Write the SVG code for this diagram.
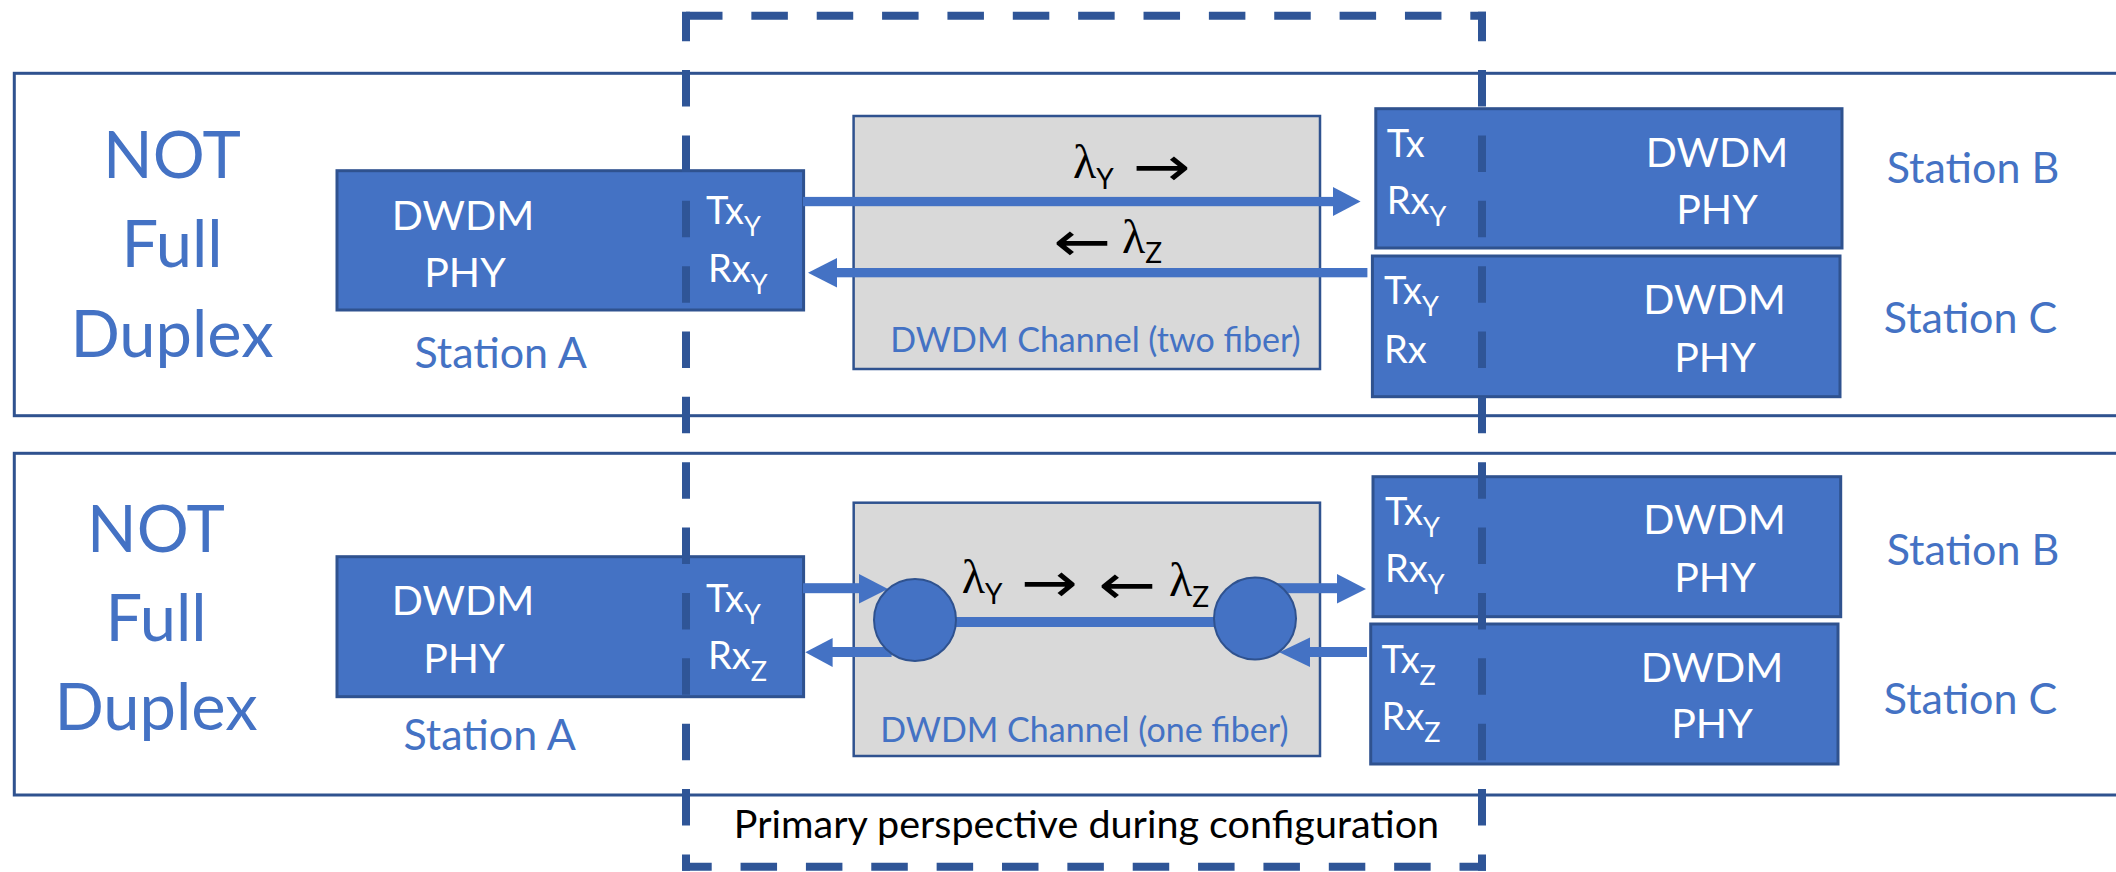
<svg xmlns="http://www.w3.org/2000/svg" width="2116" height="872" viewBox="0 0 2116 872">
  <style>
    text { font-family: Lato, "Liberation Sans", sans-serif; }
    .panel { fill: #FFFFFF; stroke: #2F528F; stroke-width: 3; }
    .chanbox { fill: #D9D9D9; stroke: #2F528F; stroke-width: 2.5; }
    .phy { fill: #4472C4; stroke: #2F528F; stroke-width: 3; }
    .big { fill: #4472C4; font-size: 65px; text-anchor: middle; }
    .lbl { fill: #4472C4; font-size: 43px; text-anchor: middle; }
    .inner { fill: #FFFFFF; font-size: 41px; text-anchor: middle; }
    .port { fill: #FFFFFF; font-size: 38px; }
    .sub { font-size: 27px; }
    .chan { fill: #4472C4; font-size: 34px; text-anchor: middle; }
    .lam { fill: #000000; font-family: "Liberation Serif", serif; font-size: 48px; }
    .lsub { font-family: Lato, "Liberation Sans", sans-serif; font-size: 28px; }
    .arr { fill: #000000; font-family: "DejaVu Sans", sans-serif; font-size: 56px; }
    .note { fill: #000000; font-size: 39.5px; text-anchor: middle; }
    .fiber { fill: #4472C4; }
    .node { fill: #4472C4; stroke: #2F528F; stroke-width: 2; }
    .perim { stroke: #2F5597; stroke-width: 8; fill: none; stroke-dasharray: 36.5 28.86; }
  </style>

  <!-- row frames -->
  <g id="row-two-fiber">
    <rect class="panel" x="14.3" y="73.3" width="2120" height="342.4"/>
    <text class="big" x="172" y="178.3">NOT</text>
    <text class="big" x="172" y="266.7">Full</text>
    <text class="big" x="172" y="357.3">Duplex</text>
  </g>
  <g id="row-one-fiber">
    <rect class="panel" x="14.3" y="453.3" width="2120" height="341.7"/>
    <text class="big" x="156" y="551.7">NOT</text>
    <text class="big" x="156" y="640.7">Full</text>
    <text class="big" x="156" y="730">Duplex</text>
  </g>

  <!-- channel boxes -->
  <g id="channel-two-fiber">
    <rect class="chanbox" x="853.6" y="116" width="466.4" height="253"/>
    <text class="chan" x="1095.5" y="352">DWDM Channel (two fiber)</text>
  </g>
  <g id="channel-one-fiber">
    <rect class="chanbox" x="853.7" y="502.7" width="466.3" height="253.3"/>
    <text class="chan" x="1084.4" y="741.7">DWDM Channel (one fiber)</text>
  </g>

  <!-- stations, two-fiber row -->
  <g id="station-a-top">
    <rect class="phy" x="337" y="170.7" width="466.6" height="139.3"/>
    <text class="inner" x="463" y="230">DWDM</text>
    <text class="inner" x="465" y="287">PHY</text>
    <text class="port" x="706" y="224">Tx<tspan class="sub" dy="12">Y</tspan></text>
    <text class="port" x="708" y="282">Rx<tspan class="sub" dy="12">Y</tspan></text>
    <text class="lbl" x="500.6" y="368.3">Station A</text>
  </g>
  <g id="station-b-top">
    <rect class="phy" x="1375.8" y="108.7" width="466.2" height="139.3"/>
    <text class="port" x="1386.7" y="157.3">Tx</text>
    <text class="port" x="1386.7" y="214">Rx<tspan class="sub" dy="12">Y</tspan></text>
    <text class="inner" x="1717" y="166.7">DWDM</text>
    <text class="inner" x="1717" y="224">PHY</text>
    <text class="lbl" x="1973" y="183.3">Station B</text>
  </g>
  <g id="station-c-top">
    <rect class="phy" x="1372.4" y="256" width="467.6" height="140.7"/>
    <text class="port" x="1384" y="304">Tx<tspan class="sub" dy="12">Y</tspan></text>
    <text class="port" x="1384" y="363.3">Rx</text>
    <text class="inner" x="1714.6" y="314.3">DWDM</text>
    <text class="inner" x="1715" y="371.7">PHY</text>
    <text class="lbl" x="1970.5" y="332.7">Station C</text>
  </g>

  <!-- stations, one-fiber row -->
  <g id="station-a-bottom">
    <rect class="phy" x="337" y="556.7" width="466.6" height="140"/>
    <text class="inner" x="463" y="615">DWDM</text>
    <text class="inner" x="464" y="672.7">PHY</text>
    <text class="port" x="706" y="611.7">Tx<tspan class="sub" dy="12">Y</tspan></text>
    <text class="port" x="708" y="669.3">Rx<tspan class="sub" dy="12">Z</tspan></text>
    <text class="lbl" x="489.7" y="750">Station A</text>
  </g>
  <g id="station-b-bottom">
    <rect class="phy" x="1373" y="476.7" width="467.7" height="140"/>
    <text class="port" x="1385" y="525">Tx<tspan class="sub" dy="12">Y</tspan></text>
    <text class="port" x="1385" y="581.7">Rx<tspan class="sub" dy="12">Y</tspan></text>
    <text class="inner" x="1714.5" y="534">DWDM</text>
    <text class="inner" x="1715" y="591.7">PHY</text>
    <text class="lbl" x="1973" y="565">Station B</text>
  </g>
  <g id="station-c-bottom">
    <rect class="phy" x="1370.7" y="624" width="467.3" height="140"/>
    <text class="port" x="1381.6" y="672.7">Tx<tspan class="sub" dy="12">Z</tspan></text>
    <text class="port" x="1381.6" y="730">Rx<tspan class="sub" dy="12">Z</tspan></text>
    <text class="inner" x="1712" y="681.7">DWDM</text>
    <text class="inner" x="1712" y="738.3">PHY</text>
    <text class="lbl" x="1970.5" y="714.3">Station C</text>
  </g>

  <!-- fiber links -->
  <g id="connectors">
    <!-- two-fiber row -->
    <rect class="fiber" x="803" y="196.9" width="531" height="9.3"/>
    <polygon class="fiber" points="1333,187 1360.6,201.5 1333,216"/>
    <rect class="fiber" x="836" y="268" width="531.4" height="9.3"/>
    <polygon class="fiber" points="837,258 808,272.7 837,287.4"/>
    <!-- one-fiber row -->
    <rect class="fiber" x="803" y="583.2" width="57" height="10"/>
    <polygon class="fiber" points="859,574 888,589 859,603.5"/>
    <rect class="fiber" x="831.6" y="647" width="60" height="10"/>
    <polygon class="fiber" points="832.6,638 805.3,652.3 832.6,667"/>
    <rect class="fiber" x="1274" y="583.2" width="64" height="10"/>
    <polygon class="fiber" points="1337,574 1366,589 1337,603.5"/>
    <rect class="fiber" x="1309" y="647" width="58" height="10"/>
    <polygon class="fiber" points="1310,637.5 1279.3,652.3 1310,667"/>
    <rect class="fiber" x="950" y="617" width="270" height="10"/>
  </g>

  <!-- mux/demux nodes on the single fiber -->
  <g id="mux-a">
    <circle class="node" cx="915" cy="620" r="41"/>
  </g>
  <g id="mux-b">
    <circle class="node" cx="1255" cy="618.5" r="41"/>
  </g>

  <!-- wavelength labels -->
  <g id="wavelengths-two-fiber">
    <text class="lam" x="1073" y="178">λ<tspan class="lsub" dy="11">Y</tspan></text>
    <text class="arr" x="1132.7" y="186" textLength="58" lengthAdjust="spacingAndGlyphs">→</text>
    <text class="arr" x="1053" y="261" textLength="58" lengthAdjust="spacingAndGlyphs">←</text>
    <text class="lam" x="1122" y="253">λ<tspan class="lsub" dy="10">Z</tspan></text>
  </g>
  <g id="wavelengths-one-fiber">
    <text class="lam" x="961.7" y="593.3">λ<tspan class="lsub" dy="11">Y</tspan></text>
    <text class="arr" x="1021" y="602" textLength="57" lengthAdjust="spacingAndGlyphs">→</text>
    <text class="arr" x="1098" y="603.5" textLength="58" lengthAdjust="spacingAndGlyphs">←</text>
    <text class="lam" x="1169" y="595.7">λ<tspan class="lsub" dy="11">Z</tspan></text>
  </g>

  <!-- configuration perspective outline -->
  <g id="perspective">
    <line class="perim" x1="682" y1="15.7" x2="1486" y2="15.7" stroke-dashoffset="-4"/>
    <line class="perim" x1="682" y1="866.7" x2="1486" y2="866.7" stroke-dashoffset="6.8"/>
    <line class="perim" x1="686" y1="11.7" x2="686" y2="870.7" stroke-dashoffset="7"/>
    <line class="perim" x1="1482" y1="11.7" x2="1482" y2="870.7" stroke-dashoffset="7"/>
    <text class="note" x="1086.5" y="838">Primary perspective during configuration</text>
  </g>
</svg>
